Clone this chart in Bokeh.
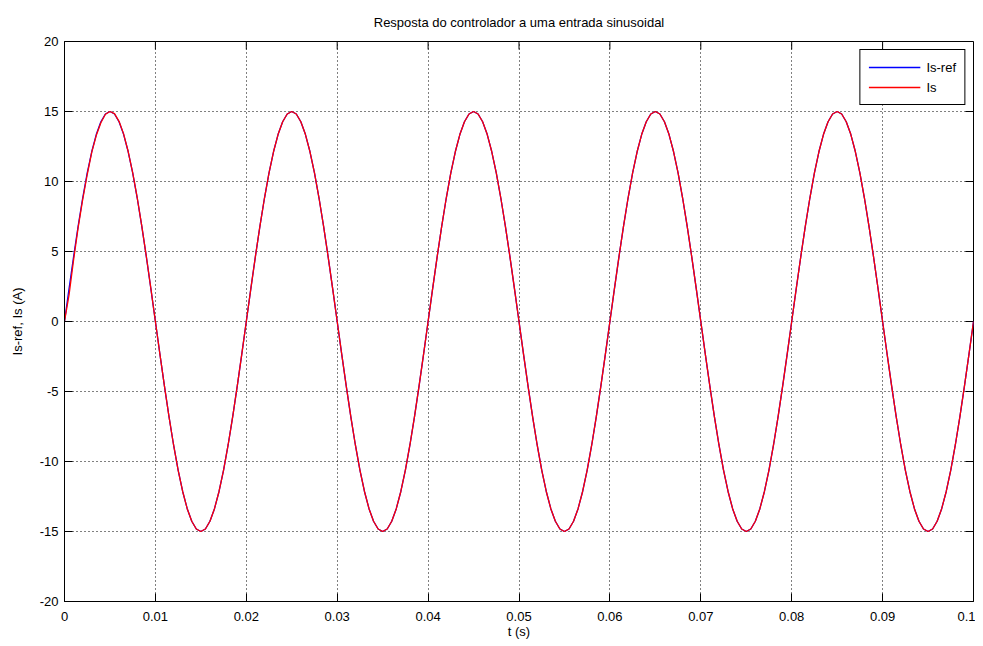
import math
from bokeh.plotting import figure
from bokeh.models import Range1d, FixedTicker, NumeralTickFormatter, ColumnDataSource
from bokeh.embed import file_html
from bokeh.resources import INLINE

# sample step of the simulation (s)
T_STEP = 0.0005

is_ref = [
    0.00, 2.35, 4.64, 6.81, 8.82, 10.61, 12.14, 13.37, 14.27, 14.82, 15.00, 14.82, 14.27, 13.37, 12.14, 10.61, 8.82, 6.81, 4.64, 2.35,
    0.00, -2.35, -4.64, -6.81, -8.82, -10.61, -12.14, -13.37, -14.27, -14.82, -15.00, -14.82, -14.27, -13.37, -12.14, -10.61, -8.82, -6.81, -4.64, -2.35,
    0.00, 2.35, 4.64, 6.81, 8.82, 10.61, 12.14, 13.37, 14.27, 14.82, 15.00, 14.82, 14.27, 13.37, 12.14, 10.61, 8.82, 6.81, 4.64, 2.35,
    0.00, -2.35, -4.64, -6.81, -8.82, -10.61, -12.14, -13.37, -14.27, -14.82, -15.00, -14.82, -14.27, -13.37, -12.14, -10.61, -8.82, -6.81, -4.64, -2.35,
    0.00, 2.35, 4.64, 6.81, 8.82, 10.61, 12.14, 13.37, 14.27, 14.82, 15.00, 14.82, 14.27, 13.37, 12.14, 10.61, 8.82, 6.81, 4.64, 2.35,
    0.00, -2.35, -4.64, -6.81, -8.82, -10.61, -12.14, -13.37, -14.27, -14.82, -15.00, -14.82, -14.27, -13.37, -12.14, -10.61, -8.82, -6.81, -4.64, -2.35,
    0.00, 2.35, 4.64, 6.81, 8.82, 10.61, 12.14, 13.37, 14.27, 14.82, 15.00, 14.82, 14.27, 13.37, 12.14, 10.61, 8.82, 6.81, 4.64, 2.35,
    0.00, -2.35, -4.64, -6.81, -8.82, -10.61, -12.14, -13.37, -14.27, -14.82, -15.00, -14.82, -14.27, -13.37, -12.14, -10.61, -8.82, -6.81, -4.64, -2.35,
    0.00, 2.35, 4.64, 6.81, 8.82, 10.61, 12.14, 13.37, 14.27, 14.82, 15.00, 14.82, 14.27, 13.37, 12.14, 10.61, 8.82, 6.81, 4.64, 2.35,
    0.00, -2.35, -4.64, -6.81, -8.82, -10.61, -12.14, -13.37, -14.27, -14.82, -15.00, -14.82, -14.27, -13.37, -12.14, -10.61, -8.82, -6.81, -4.64, -2.35,
    0.00,
]

is_meas = [
    0.00, 1.90, 4.40, 6.70, 8.70, 10.50, 12.10, 13.30, 14.20, 14.80, 15.00, 14.85, 14.30, 13.40, 12.16, 10.63, 8.84, 6.83, 4.66, 2.37,
    0.00, -2.35, -4.64, -6.81, -8.82, -10.61, -12.14, -13.37, -14.27, -14.82, -15.00, -14.82, -14.27, -13.37, -12.14, -10.61, -8.82, -6.81, -4.64, -2.35,
    0.00, 2.35, 4.64, 6.81, 8.82, 10.61, 12.14, 13.37, 14.27, 14.82, 15.00, 14.82, 14.27, 13.37, 12.14, 10.61, 8.82, 6.81, 4.64, 2.35,
    0.00, -2.35, -4.64, -6.81, -8.82, -10.61, -12.14, -13.37, -14.27, -14.82, -15.00, -14.82, -14.27, -13.37, -12.14, -10.61, -8.82, -6.81, -4.64, -2.35,
    0.00, 2.35, 4.64, 6.81, 8.82, 10.61, 12.14, 13.37, 14.27, 14.82, 15.00, 14.82, 14.27, 13.37, 12.14, 10.61, 8.82, 6.81, 4.64, 2.35,
    0.00, -2.35, -4.64, -6.81, -8.82, -10.61, -12.14, -13.37, -14.27, -14.82, -15.00, -14.82, -14.27, -13.37, -12.14, -10.61, -8.82, -6.81, -4.64, -2.35,
    0.00, 2.35, 4.64, 6.81, 8.82, 10.61, 12.14, 13.37, 14.27, 14.82, 15.00, 14.82, 14.27, 13.37, 12.14, 10.61, 8.82, 6.81, 4.64, 2.35,
    0.00, -2.35, -4.64, -6.81, -8.82, -10.61, -12.14, -13.37, -14.27, -14.82, -15.00, -14.82, -14.27, -13.37, -12.14, -10.61, -8.82, -6.81, -4.64, -2.35,
    0.00, 2.35, 4.64, 6.81, 8.82, 10.61, 12.14, 13.37, 14.27, 14.82, 15.00, 14.82, 14.27, 13.37, 12.14, 10.61, 8.82, 6.81, 4.64, 2.35,
    0.00, -2.35, -4.64, -6.81, -8.82, -10.61, -12.14, -13.37, -14.27, -14.82, -15.00, -14.82, -14.27, -13.37, -12.14, -10.61, -8.82, -6.81, -4.64, -2.35,
    0.00,
]

t = [k * T_STEP for k in range(len(is_ref))]

x_ticks = [0, 0.01, 0.02, 0.03, 0.04, 0.05, 0.06, 0.07, 0.08, 0.09, 0.1]
y_ticks = [-20, -15, -10, -5, 0, 5, 10, 15, 20]
X_MIN, X_MAX = 0, 0.1
Y_MIN, Y_MAX = -20, 20

FONT = "Liberation Sans"
FS = "13px"

src = ColumnDataSource(dict(t=t, ref=is_ref, meas=is_meas))

p = figure(width=975, height=644, output_backend="svg", toolbar_location=None,
           x_range=Range1d(X_MIN, X_MAX), y_range=Range1d(Y_MIN, Y_MAX),
           min_border_left=64, min_border_right=2, min_border_top=41, min_border_bottom=43,
           background_fill_color="white", border_fill_color="white")

p.title.text = "Resposta do controlador a uma entrada sinusoidal"
p.title.align = "center"
p.title.text_font = FONT
p.title.text_font_size = FS
p.title.text_font_style = "normal"
p.title.text_color = "black"
p.title.standoff = 23

p.outline_line_color = "black"
p.outline_line_width = 1
p.outline_line_alpha = 1

xax = p.xaxis[0]
yax = p.yaxis[0]
xax.ticker = FixedTicker(ticks=x_ticks)
xax.formatter = NumeralTickFormatter(format="0.[00]")
xax.axis_label = "t (s)"
xax.axis_label_standoff = 0
xax.major_label_standoff = 10
yax.ticker = FixedTicker(ticks=y_ticks)
yax.formatter = NumeralTickFormatter(format="0")
yax.axis_label = "Is-ref, Is (A)"
yax.axis_label_standoff = 12
yax.major_label_standoff = 6

for ax in [xax, yax]:
    ax.axis_line_color = "black"
    ax.major_tick_line_color = "black"
    ax.major_tick_in = 8
    ax.major_tick_out = 0
    ax.minor_tick_line_color = None
    ax.major_label_text_font = FONT
    ax.major_label_text_font_size = FS
    ax.major_label_text_color = "black"
    ax.axis_label_text_font = FONT
    ax.axis_label_text_font_size = FS
    ax.axis_label_text_font_style = "normal"
    ax.axis_label_text_color = "black"

p.xgrid.ticker = FixedTicker(ticks=x_ticks)
p.ygrid.ticker = FixedTicker(ticks=y_ticks)
for g in [p.xgrid[0], p.ygrid[0]]:
    g.grid_line_color = "black"
    g.grid_line_dash = "1 3"
    g.grid_line_width = 1
    g.grid_line_alpha = 1

# inward ticks on the top and right edges of the box (MATLAB "box on")
p.ray(x=x_ticks, y=[Y_MAX] * len(x_ticks), length=8, length_units="screen",
      angle=-math.pi / 2, line_color="black", line_width=1)
p.ray(x=[X_MAX] * len(y_ticks), y=y_ticks, length=8, length_units="screen",
      angle=math.pi, line_color="black", line_width=1)

p.line("t", "ref", source=src, line_color="blue", line_width=1.3, legend_label="Is-ref")
p.line("t", "meas", source=src, line_color="red", line_width=1.3, legend_label="Is")

legend = p.legend[0]
legend.location = "top_right"
legend.margin = 8
legend.padding = 8
legend.spacing = 2
legend.glyph_width = 52
legend.glyph_height = 18
legend.label_standoff = 6
legend.label_text_font = FONT
legend.label_text_font_size = FS
legend.label_text_color = "black"
legend.border_line_color = "black"
legend.border_line_width = 1
legend.border_line_alpha = 1
legend.background_fill_color = "white"
legend.background_fill_alpha = 1

open("out.html", "w").write(file_html(p, INLINE))
